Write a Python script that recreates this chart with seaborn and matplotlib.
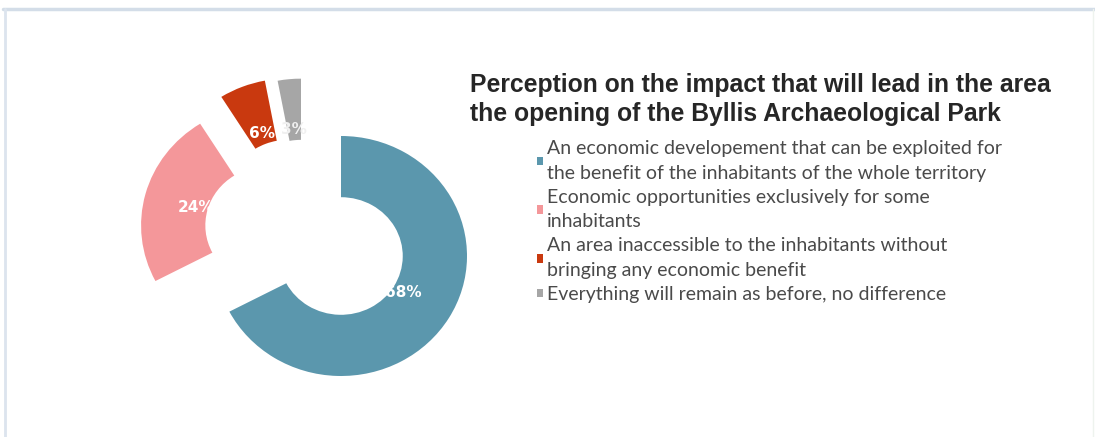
import matplotlib
matplotlib.use("Agg")
import matplotlib.pyplot as plt
import seaborn as sns
from matplotlib.patches import Patch
from matplotlib.lines import Line2D

# ---- data ----
categories = [
    "An economic developement that can be exploited for\nthe benefit of the inhabitants of the whole territory",
    "Economic opportunities exclusively for some\ninhabitants",
    "An area inaccessible to the inhabitants without\nbringing any economic benefit",
    "Everything will remain as before, no difference",
]
values = [68, 24, 6, 3]
colors = ["#5B97AD", "#F4979A", "#C9390F", "#A6A6A6"]
title = ("Perception on the impact that will lead in the area\n"
         "the opening of the Byllis Archaeological Park")

sns.set_theme(style="white")
plt.rcParams['font.family'] = ['Liberation Sans', 'DejaVu Sans']

W, H = 1095, 437
fig = plt.figure(figsize=(W / 100, H / 100), dpi=100)
fig.patch.set_facecolor('white')

# axes area in pixels
ax_l, ax_r, ax_t, ax_b = 100, 500, 40, 420
ax = fig.add_axes([ax_l / W, 1 - ax_b / H, (ax_r - ax_l) / W, (ax_b - ax_t) / H])

explode = [0, 0.67, 0.60, 0.51]
nudge = [(0, 0), (0.06, 0.08), (-0.20, -0.08), (-0.27, -0.03)]
total = sum(values)
wedges, texts, autotexts = ax.pie(
    values, colors=colors, startangle=90, counterclock=False,
    explode=explode, radius=1,
    wedgeprops=dict(width=0.51, edgecolor='none'),
    autopct=lambda p: f"{round(p * total / 100)}%", pctdistance=0.58,
    textprops=dict(color='white', fontweight='bold', fontsize=11,
                   family=['DejaVu Sans']))

for w, t, (dx, dy) in zip(wedges, autotexts, nudge):
    cx, cy = w.center
    w.set_center((cx + dx, cy + dy))
    x, y = t.get_position()
    t.set_position((x + dx, y + dy))
autotexts[3].set_color('#F0F0F0')

ax.set_aspect('auto')
cxp, cyp, rx, ry = 341, 256, 126, 120
ax.set_xlim(-(cxp - ax_l) / rx, (ax_r - cxp) / rx)
ax.set_ylim(-(ax_b - cyp) / ry, (cyp - ax_t) / ry)
ax.axis('off')

fig.text(470 / W, 1 - 73 / H, title, ha='left', va='top', fontsize=17.8,
         fontweight='bold', color='#262626', linespacing=1.25)

handles = [Patch(facecolor=c, edgecolor='none') for c in colors]
leg = fig.legend(handles, categories, loc='upper left',
                 bbox_to_anchor=(537 / W, 1 - 140 / H), frameon=False,
                 prop={'family': ['Lato', 'DejaVu Sans'], 'size': 14},
                 handlelength=0.3, handleheight=0.3, handletextpad=0.2,
                 labelspacing=0.36, borderpad=0, borderaxespad=0,
                 labelcolor='#4a4a4a')
for t in leg.get_texts():
    t.set_linespacing(1.55)

# frame lines
fig.add_artist(Line2D([3 / W, 1], [1 - 9 / H] * 2, transform=fig.transFigure,
                      color='#D3DDE8', lw=2.5))
fig.add_artist(Line2D([5 / W] * 2, [0, 1 - 9 / H], transform=fig.transFigure,
                      color='#DCE4EE', lw=2))
fig.add_artist(Line2D([1093 / W] * 2, [0, 1 - 9 / H], transform=fig.transFigure,
                      color='#EEF3EE', lw=1))

fig.savefig('out.png', dpi=100, facecolor='white')
